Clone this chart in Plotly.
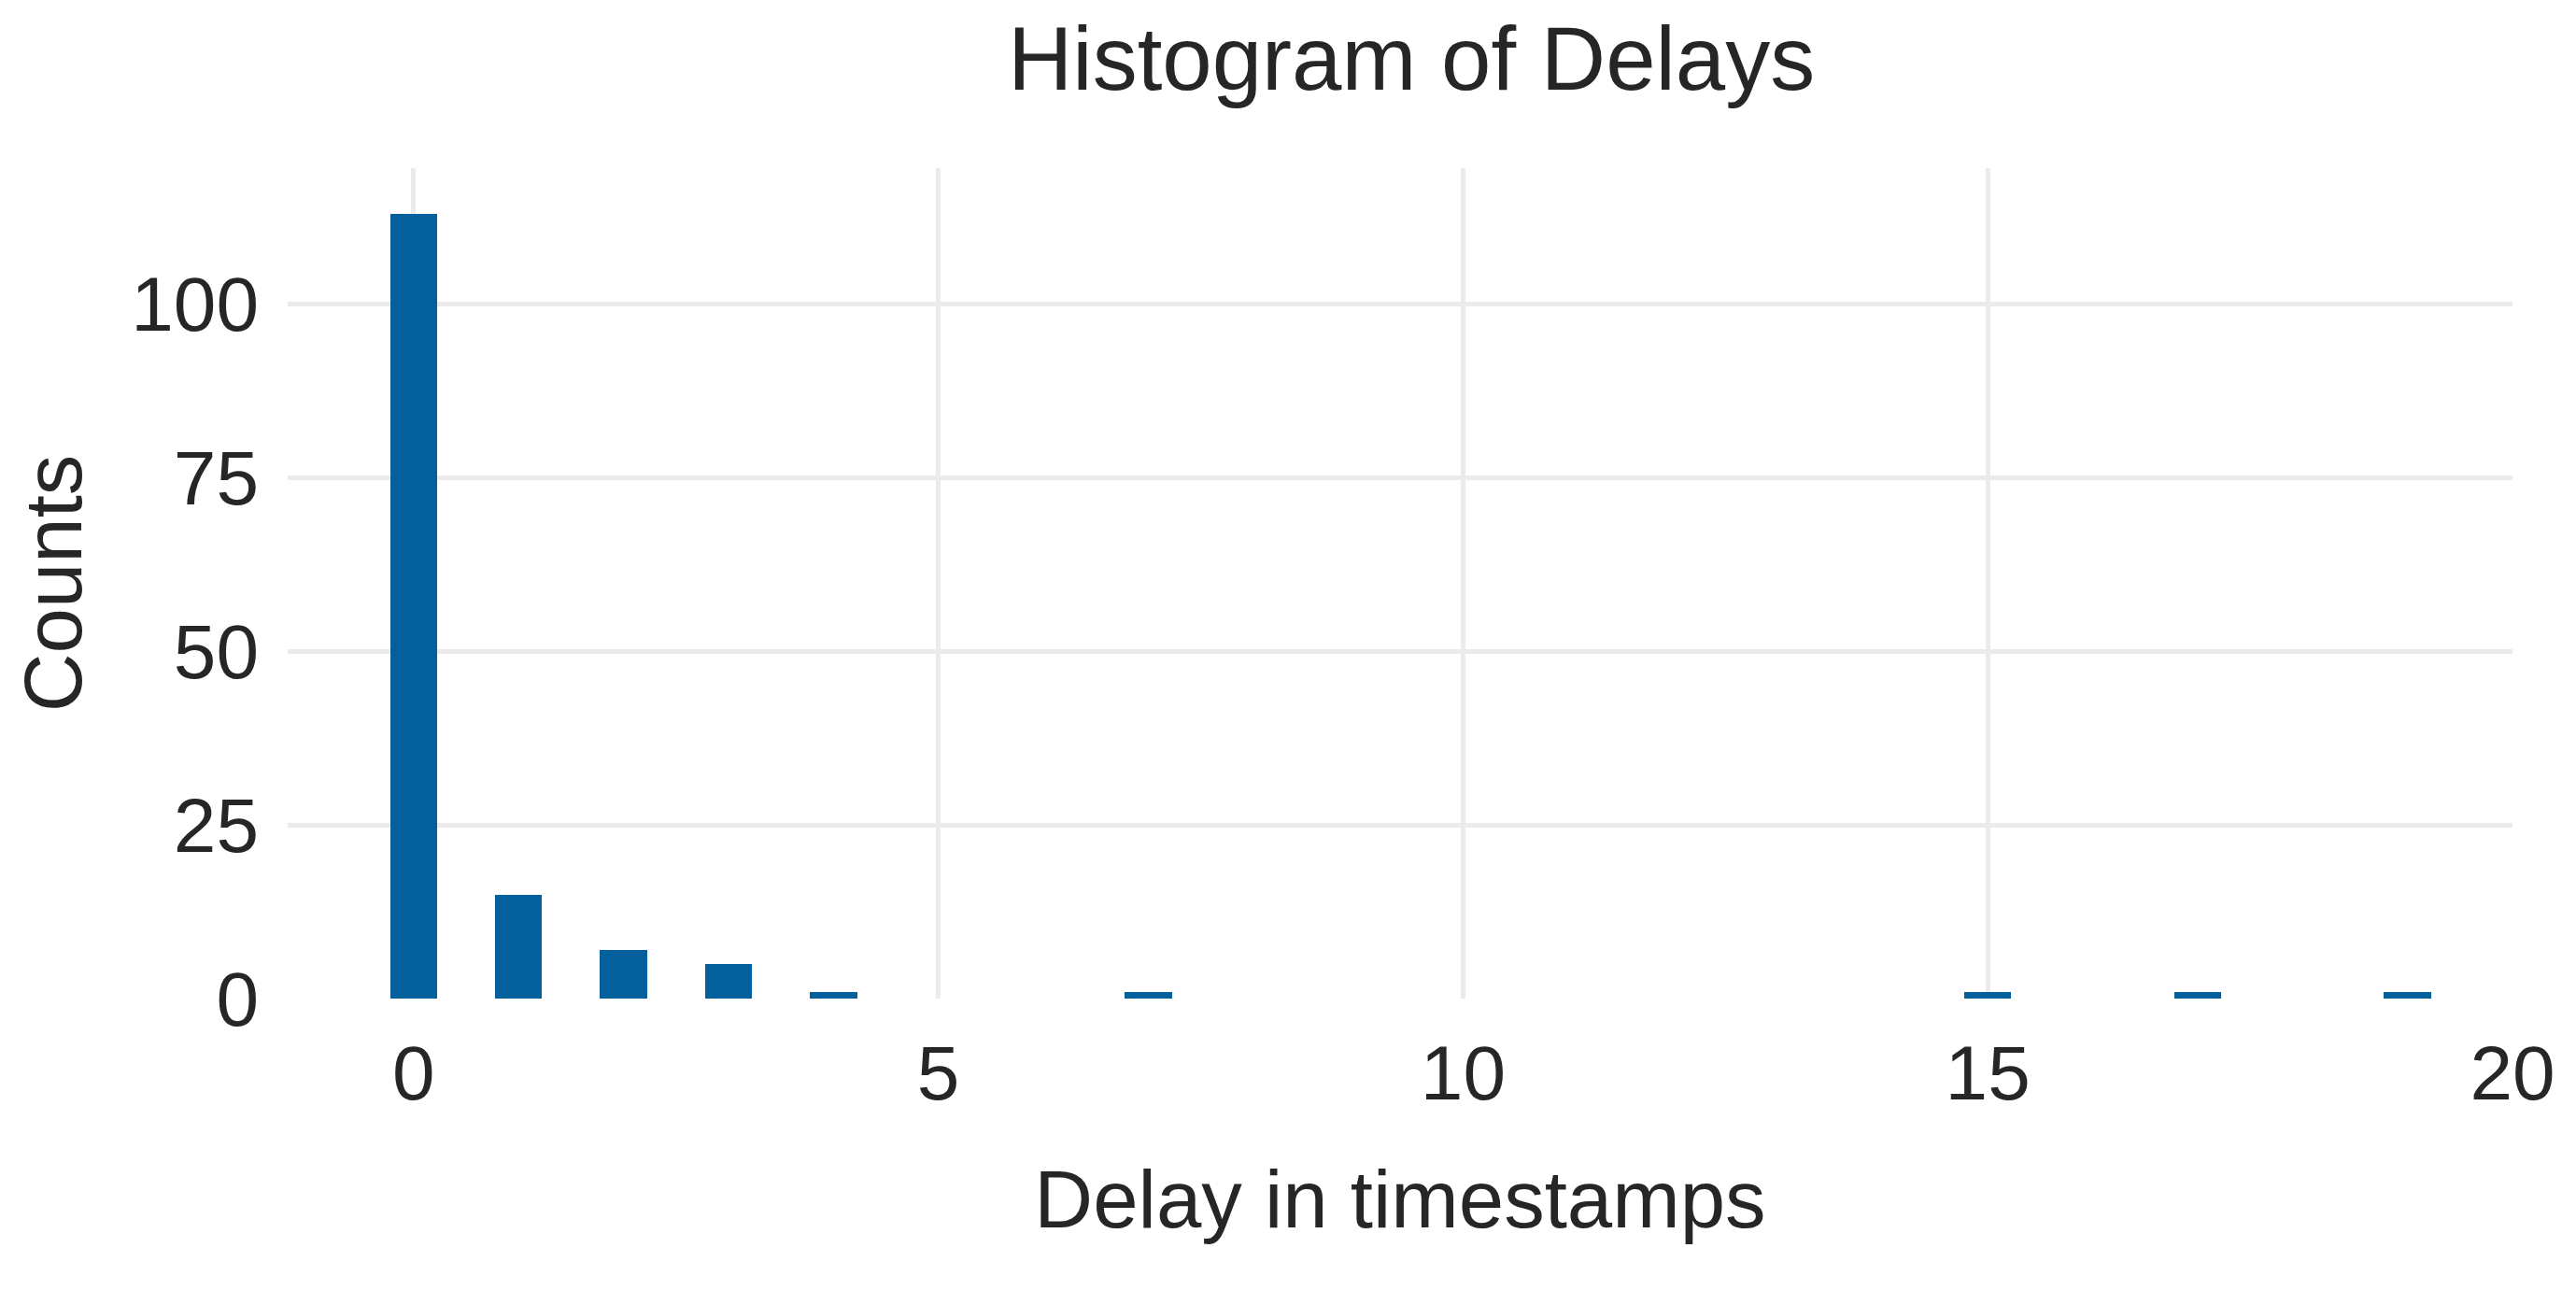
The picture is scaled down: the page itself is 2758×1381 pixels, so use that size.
import plotly.graph_objects as go

delays = [0, 1, 2, 3, 4, 7, 15, 17, 19]
counts = [113, 15, 7, 5, 1, 1, 1, 1, 1]
xticks = [0, 5, 10, 15, 20]
yticks = [0, 25, 50, 75, 100]

fig = go.Figure(go.Bar(x=delays, y=counts, width=0.45, marker_color="#03609c", marker_line_width=0))
font = "Arial, Liberation Sans, sans-serif"
fig.update_layout(
    width=2758, height=1381, plot_bgcolor="white", paper_bgcolor="white",
    margin=dict(l=300, r=76, t=172, b=320),
    font=dict(family=font, color="#262626", size=82),
    title=dict(text="Histogram of Delays", x=0.545, xanchor="center", y=0.985, yanchor="top", font=dict(size=96)),
    xaxis=dict(range=[-1.2, 20.0], tickvals=xticks, showgrid=True, gridcolor="#ebebeb", gridwidth=5,
               zeroline=False, showline=False, ticks="", ticklabelstandoff=25,
               title=dict(text="Delay in timestamps", font=dict(size=87), standoff=60)),
    yaxis=dict(range=[0, 119.6], tickvals=yticks, showgrid=True, gridcolor="#ebebeb", gridwidth=5,
               zeroline=False, showline=False, ticks="", ticklabelstandoff=30,
               title=dict(text="Counts", font=dict(size=87), standoff=30)),
    bargap=0,
)
fig.write_html("out.html")
